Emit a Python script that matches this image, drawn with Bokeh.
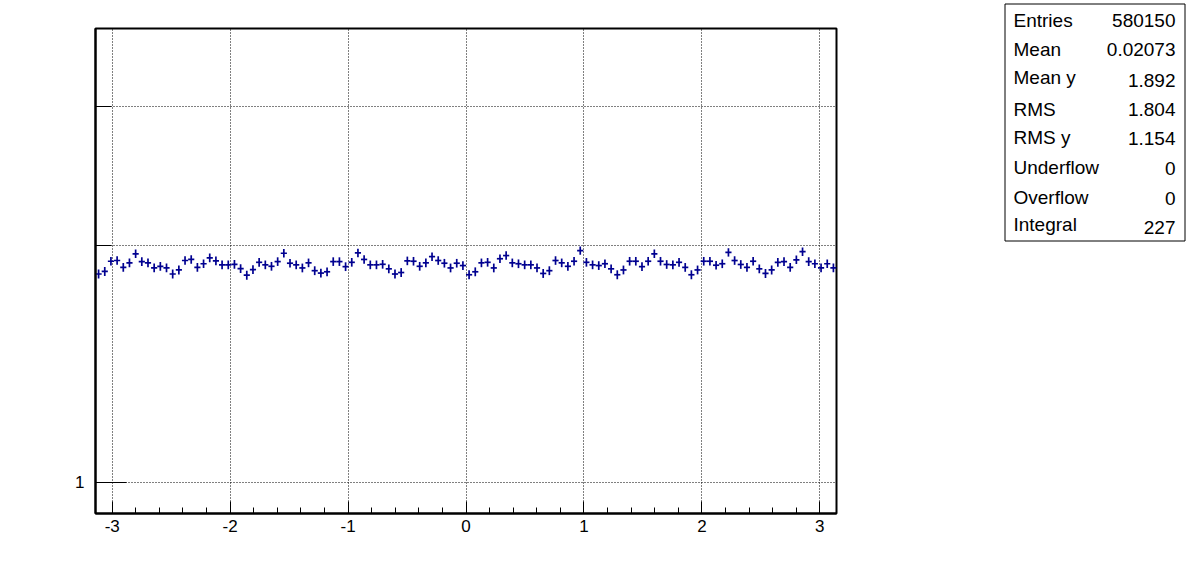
import math
from bokeh.plotting import figure
from bokeh.models import Range1d, FixedTicker, ColumnDataSource
from bokeh.layouts import row, column
from bokeh.core.properties import value
from bokeh.embed import file_html
from bokeh.resources import INLINE

# ---------------- data ----------------
n_bins = 120
x_min, x_max = -math.pi, math.pi
profile_y = [
    1.839, 1.853, 1.909, 1.913, 1.875, 1.900, 1.951, 1.907, 1.900, 1.872,
    1.881, 1.872, 1.839, 1.861, 1.913, 1.919, 1.875, 1.895, 1.928, 1.911,
    1.889, 1.889, 1.892, 1.868, 1.833, 1.863, 1.903, 1.889, 1.881, 1.907,
    1.954, 1.898, 1.889, 1.872, 1.900, 1.857, 1.844, 1.851, 1.907, 1.907,
    1.879, 1.903, 1.956, 1.919, 1.889, 1.889, 1.892, 1.867, 1.839, 1.847,
    1.911, 1.909, 1.881, 1.900, 1.935, 1.913, 1.898, 1.872, 1.898, 1.885,
    1.835, 1.851, 1.900, 1.903, 1.872, 1.923, 1.941, 1.900, 1.895, 1.889,
    1.889, 1.872, 1.842, 1.857, 1.913, 1.900, 1.881, 1.909, 1.969, 1.903,
    1.889, 1.885, 1.895, 1.867, 1.835, 1.861, 1.909, 1.909, 1.879, 1.909,
    1.951, 1.909, 1.891, 1.889, 1.903, 1.875, 1.835, 1.861, 1.909, 1.909,
    1.887, 1.895, 1.959, 1.913, 1.891, 1.875, 1.909, 1.867, 1.842, 1.861,
    1.903, 1.907, 1.875, 1.917, 1.963, 1.907, 1.895, 1.872, 1.895, 1.872,
]
y_err = 0.024

x_ticks = [-3, -2, -1, 0, 1, 2, 3]
y_ticks = [1]
y_minor = [2, 3]

stat_names = ["Entries", "Mean", "Mean y", "RMS", "RMS y", "Underflow", "Overflow", "Integral"]
stat_values = ["580150", "0.02073", "1.892", "1.804", "1.154", "0", "0", "227"]

# ---------------- derived bins ----------------
bw = (x_max - x_min) / n_bins
left = [x_min + i * bw for i in range(n_bins)]
right = [x_min + (i + 1) * bw for i in range(n_bins)]
xc = [x_min + (i + 0.5) * bw for i in range(n_bins)]
src = ColumnDataSource(dict(
    x=xc, y=profile_y, l=left, r=right,
    lo=[v - y_err for v in profile_y], hi=[v + y_err for v in profile_y],
))

FONT = "Liberation Sans"
COL = "#000090"

# frame placement (pixels)
FL, FR, FT, FB = 95, 836, 28, 513
W, H = 1196, 572
PW = FR + 2          # width of the main figure

p = figure(width=PW, height=H,
           x_range=Range1d(x_min, x_max), y_range=Range1d(0.913, 3.77),
           y_axis_type="log", output_backend="svg", toolbar_location=None,
           min_border_left=FL, min_border_right=PW - FR, min_border_top=FT,
           min_border_bottom=H - FB)
p.background_fill_color = "white"
p.border_fill_color = "white"
p.outline_line_color = "black"
p.outline_line_width = 2

p.xaxis.ticker = FixedTicker(ticks=x_ticks,
                             minor_ticks=[round(-3.2 + 0.2 * k, 1) for k in range(33)])
p.xaxis.major_label_overrides = {t: str(t) for t in x_ticks}
p.yaxis.ticker = FixedTicker(ticks=y_ticks, minor_ticks=y_minor)
p.yaxis.major_label_overrides = {1: "1"}

for ax in (p.xaxis[0], p.yaxis[0]):
    ax.axis_line_color = "black"
    ax.axis_line_width = 2
    ax.major_tick_line_color = "black"
    ax.minor_tick_line_color = "black"
    ax.major_tick_out = 0
    ax.minor_tick_out = 0
    ax.major_label_text_font = FONT
    ax.major_label_text_font_size = "17px"
    ax.major_label_text_color = "black"

p.xaxis.major_tick_in = 12
p.xaxis.minor_tick_in = 6
p.xaxis.major_label_standoff = 6
p.yaxis.major_tick_in = 31
p.yaxis.minor_tick_in = 16
p.yaxis.major_label_standoff = 11

p.xgrid.ticker = FixedTicker(ticks=x_ticks)
p.ygrid.ticker = FixedTicker(ticks=[1, 2, 3])
for g in (p.xgrid[0], p.ygrid[0]):
    g.grid_line_color = "black"
    g.grid_line_dash = "1 2"
    g.grid_line_width = 1

p.segment(x0="l", x1="r", y0="y", y1="y", source=src, line_color=COL, line_width=1.7)
p.segment(x0="x", x1="x", y0="lo", y1="hi", source=src, line_color=COL, line_width=1.7)

# ---------------- stats box: separate figure whose frame is its whole canvas ----------------
SW = W - PW
s = figure(width=SW, height=H, x_range=Range1d(PW, W), y_range=Range1d(H, 0),
           output_backend="svg", toolbar_location=None,
           x_axis_location=None, y_axis_location=None,
           min_border=0, min_border_left=0, min_border_right=0,
           min_border_top=0, min_border_bottom=0)
s.grid.visible = False
s.outline_line_color = None
s.background_fill_color = "white"
s.border_fill_color = "white"

s.quad(left=[1004.5], right=[1184.5], top=[3.5], bottom=[240.5],
       fill_color="white", line_color="black", line_width=1)

label_base = [20, 49, 77, 109, 137, 167, 197, 224]
value_base = [20, 49, 80, 109, 138, 168, 198, 227]
s.text(x=[1013] * len(stat_names), y=label_base, text=stat_names,
       text_font=value(FONT), text_font_size="19px", text_color="black",
       text_baseline="alphabetic", text_align="left")
s.text(x=[1175] * len(stat_values), y=value_base, text=stat_values,
       text_font=value(FONT), text_font_size="19px", text_color="black",
       text_baseline="alphabetic", text_align="right")

layout = row(p, column(s, spacing=0), spacing=0)
open("out.html", "w").write(file_html(layout, INLINE))
